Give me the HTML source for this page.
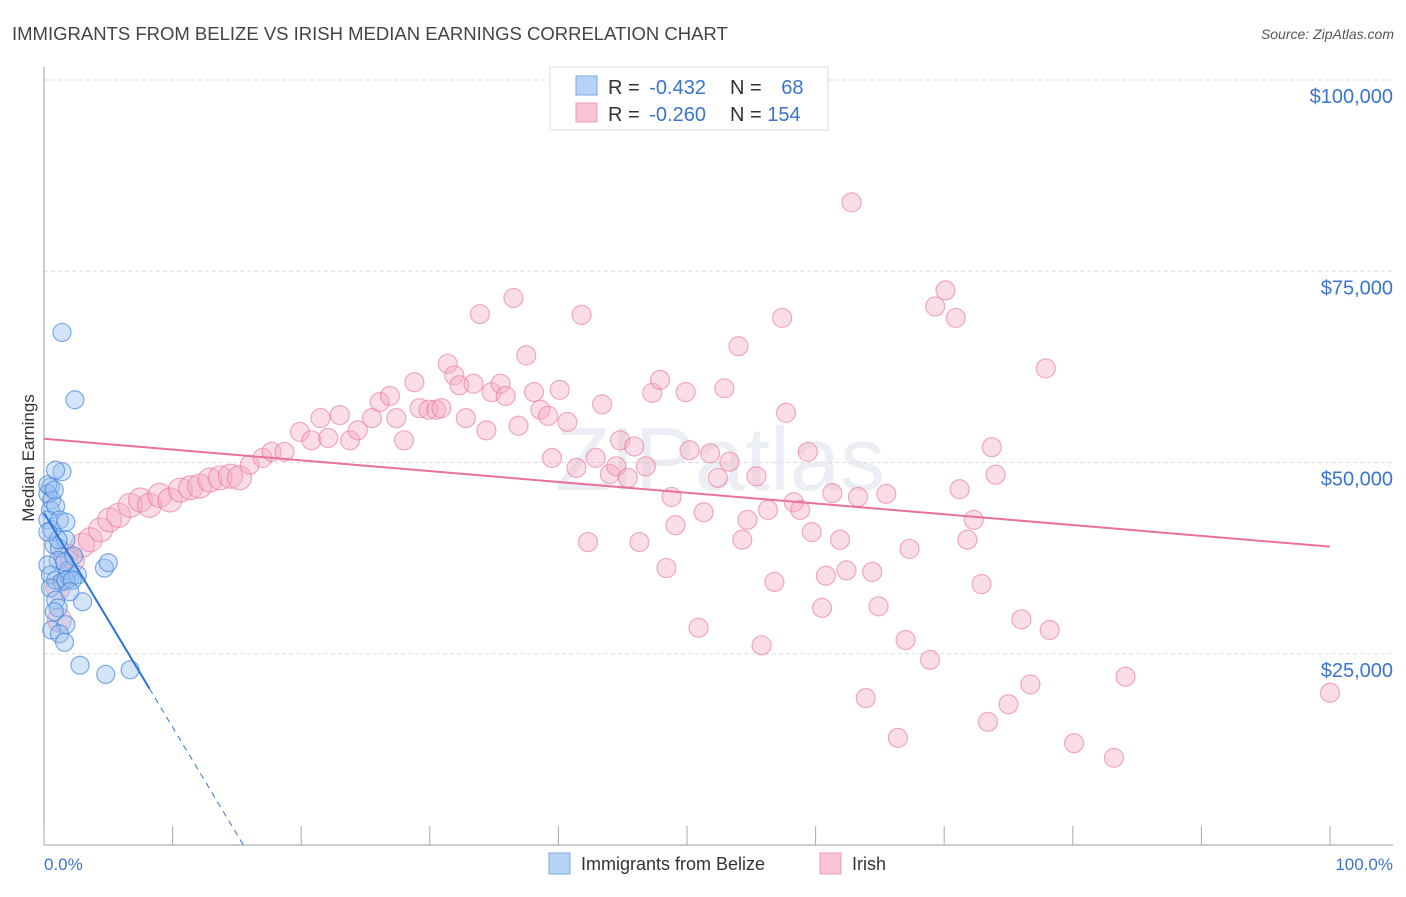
<!DOCTYPE html>
<html><head><meta charset="utf-8"><style>
body{margin:0;background:#fff;font-family:"Liberation Sans",sans-serif;}
svg text{font-family:"Liberation Sans",sans-serif;}
</style></head><body>
<svg id="chart" width="1406" height="892" viewBox="0 0 1406 892" xmlns="http://www.w3.org/2000/svg">
<text x="12" y="40" font-size="18.5" fill="#444">IMMIGRANTS FROM BELIZE VS IRISH MEDIAN EARNINGS CORRELATION CHART</text>
<text x="1394" y="39" font-size="14" fill="#555" text-anchor="end" font-style="italic">Source: ZipAtlas.com</text>
<text x="720" y="490" font-size="90" fill="#dfe6ef" text-anchor="middle" font-family="Liberation Serif" opacity="0.6">ZIPatlas</text>
<g id="grid"></g>
<g id="axes"></g>
<g id="pink"></g>
<g id="blue"></g>
<g id="trends"></g>
<text transform="translate(34,458) rotate(-90)" font-size="17" fill="#333" text-anchor="middle">Median Earnings</text>
<text x="44" y="870" font-size="17" fill="#3a74d0">0.0%</text>
<text x="1393" y="870" font-size="17" fill="#3a74d0" text-anchor="end">100.0%</text>
<g>
<rect x="550" y="67" width="278" height="63" fill="#fff" stroke="#ddd"/>
<rect x="576" y="76" width="21" height="19" fill="#b8d3f5" stroke="#7aaae6"/>
<rect x="576" y="103" width="21" height="19" fill="#f9c5d4" stroke="#ec9ab4"/>
<text x="608" y="94" font-size="20" fill="#333">R = <tspan fill="#3a74d0" dx="4">-0.432</tspan></text>
<text x="730" y="94" font-size="20" fill="#333">N = <tspan fill="#3a74d0" dx="14">68</tspan></text>
<text x="608" y="121" font-size="20" fill="#333">R = <tspan fill="#3a74d0" dx="4">-0.260</tspan></text>
<text x="730" y="121" font-size="20" fill="#333">N = <tspan fill="#3a74d0">154</tspan></text>
</g>
<g>
<rect x="549" y="853" width="21" height="21" fill="#b8d3f5" stroke="#7aaae6"/>
<text x="581" y="870" font-size="18" fill="#333">Immigrants from Belize</text>
<rect x="820" y="853" width="21" height="21" fill="#f9c5d4" stroke="#ec9ab4"/>
<text x="852" y="870" font-size="18" fill="#333">Irish</text>
</g>
</svg>
<script>
const yTicks=[25000,50000,75000,100000];
const yTickLabels=["$25,000","$50,000","$75,000","$100,000"];
const xTicks=[0,10,20,30,40,50,60,70,80,90,100];
const irishX=[1.1,1.2,1.7,2.2,3.0,3.6,4.4,5.1,5.8,6.7,7.5,8.2,9.0,9.8,10.6,11.4,12.1,12.9,13.7,14.5,15.2,16.0,17.0,17.7,18.7,19.9,20.8,21.5,22.1,23.0,23.8,24.4,25.5,26.1,26.9,27.4,28.0,28.8,29.2,29.9,30.5,30.9,31.4,31.9,32.3,32.8,33.4,33.9,34.4,34.8,35.5,35.9,36.5,36.9,37.5,38.1,38.6,39.2,39.5,40.1,40.7,41.4,41.8,42.3,42.9,43.4,44.0,44.5,44.8,45.4,45.9,46.3,46.8,47.3,47.9,48.4,48.8,49.1,49.9,50.2,50.9,51.3,51.8,52.4,52.9,53.3,54.0,54.3,54.7,55.4,55.8,56.3,56.8,57.4,57.7,58.3,58.8,59.4,59.7,60.5,60.8,61.3,61.9,62.4,62.8,63.3,63.9,64.4,64.9,65.5,66.4,67.0,67.3,68.9,69.3,70.1,70.9,71.2,71.8,72.3,72.9,73.4,73.7,74.0,75.0,76.0,76.7,77.9,78.2,80.1,83.2,84.1,100];
const irishY=[33.6,29.4,37.8,37.2,39.2,39.9,41.2,42.5,43.1,44.4,45.1,44.4,45.7,45.1,46.4,46.7,46.9,47.7,48.0,48.2,48.0,49.7,50.6,51.4,51.4,54.0,52.9,55.8,53.2,56.2,52.9,54.2,55.8,57.9,58.7,55.8,52.9,60.5,57.1,56.9,56.9,57.1,62.9,61.4,60.1,55.8,60.3,69.4,54.2,59.2,60.3,58.7,71.5,54.8,64.0,59.2,56.9,56.1,50.6,59.5,55.3,49.3,69.3,39.6,50.6,57.6,48.5,49.5,52.9,48.0,52.1,39.6,49.5,59.1,60.8,36.2,45.5,41.8,59.2,51.6,28.4,43.5,51.2,48.0,59.7,50.1,65.2,39.9,42.5,48.2,26.1,43.8,34.4,68.9,56.5,44.8,43.8,51.4,40.9,31.0,35.2,46.0,39.9,35.9,84.0,45.5,19.2,35.7,31.2,45.9,14.0,26.8,38.7,24.2,70.4,72.5,68.9,46.5,39.9,42.5,34.1,16.1,52.0,48.4,18.4,29.5,21.0,62.3,28.1,13.3,11.4,22.0,19.9];
const belizeX=[0.5,0.3,0.6,0.5,0.9,0.3,1.4,0.6,0.8,1.2,1.1,0.3,1.7,0.5,0.9,1.4,2.0,1.9,2.6,0.5,0.9,1.7,0.6,1.2,1.6,1.1,1.7,2.2,4.7,5.0,3.0,2.8,4.8,6.7,2.3,1.4,2.4,0.3,0.8,1.1,1.6,2.0,0.8,1.2,1.7,0.3,0.9];
const belizeY=[46.8,45.9,45.1,43.8,44.3,42.5,48.8,41.2,39.2,38.8,37.2,36.6,39.9,35.3,34.6,34.4,34.9,35.9,35.3,33.6,32.0,28.8,28.1,27.6,26.5,31.0,34.6,34.6,36.2,36.9,31.8,23.5,22.3,22.9,37.8,67.0,58.2,47.1,46.4,39.9,37.0,33.1,30.5,42.5,42.2,40.9,49.0];
const belizeTrend=[43.4,-2.8,8.2,15.5];
const irishTrend=[53.1,39.0];

const NS="http://www.w3.org/2000/svg";
const X0=44,X1=1330,Y0=845,YTOP=80;
const sx=v=>X0+(X1-X0)*v/100;
const sy=v=>Y0-(Y0-YTOP)*v/100000;
function mk(tag,attrs,parent){const e=document.createElementNS(NS,tag);for(const k in attrs)e.setAttribute(k,attrs[k]);parent.appendChild(e);return e;}
const grid=document.getElementById('grid'),axes=document.getElementById('axes');
yTicks.forEach((t,i)=>{
  const l=mk('line',{x1:X0,x2:1393,y1:sy(t),y2:sy(t),stroke:'#ddd','stroke-dasharray':'4,3'},grid);
  
  
  const tx=mk('text',{x:1393,y:sy(t)+23,'font-size':20,fill:'#3a74d0','text-anchor':'end'},grid);
  tx.textContent=yTickLabels[i];
  
  
});
const ya=mk('line',{x1:X0,x2:X0,y1:67,y2:Y0,stroke:'#999'},axes);


const xa=mk('line',{x1:X0,x2:1393,y1:Y0,y2:Y0,stroke:'#999'},axes);


xTicks.forEach(t=>{
  const l=mk('line',{x1:sx(t),x2:sx(t),y1:Y0,y2:Y0-19,stroke:'#aaa'},axes);
  
  
});
const pg=document.getElementById('pink');
irishX.forEach((x,i)=>{
  const r=x<16?12:9.5;
  const c=mk('circle',{cx:sx(x),cy:sy(irishY[i]*1000),r:r,fill:'rgba(246,170,194,0.4)',stroke:'rgba(232,120,156,0.6)','stroke-width':1.2},pg);
  
  
});
const bg=document.getElementById('blue');
belizeX.forEach((x,i)=>{
  const c=mk('circle',{cx:sx(x),cy:sy(belizeY[i]*1000),r:9,fill:'rgba(150,190,240,0.4)',stroke:'rgba(60,130,220,0.65)','stroke-width':1.2},bg);
  
  
});
const tg=document.getElementById('trends');
const bt=v=>(belizeTrend[0]+belizeTrend[1]*v)*1000;
const l1=mk('line',{x1:sx(0),y1:sy(bt(0)),x2:sx(belizeTrend[2]),y2:sy(bt(belizeTrend[2])),stroke:'#2b74d6','stroke-width':2},tg);


const l2=mk('line',{x1:sx(belizeTrend[2]),y1:sy(bt(belizeTrend[2])),x2:sx(belizeTrend[3]),y2:sy(bt(belizeTrend[3])),stroke:'#2b74d6','stroke-width':1,'stroke-dasharray':'6,5'},tg);


const l3=mk('line',{x1:sx(0),y1:sy(irishTrend[0]*1000),x2:sx(100),y2:sy(irishTrend[1]*1000),stroke:'#e8729a','stroke-width':2},tg);


</script>
</body></html>
